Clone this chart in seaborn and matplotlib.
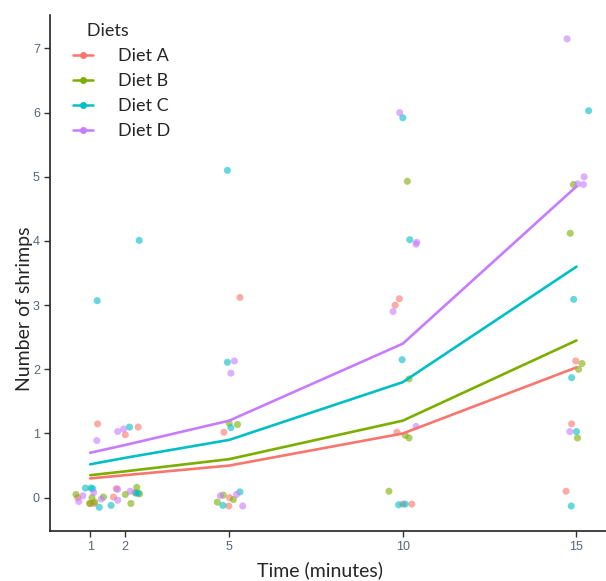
import numpy as np
import pandas as pd
import matplotlib
matplotlib.use('Agg')
import matplotlib.pyplot as plt
from matplotlib.lines import Line2D
import seaborn as sns

# Diet colours (ggplot default hue palette)
diets = ['Diet A', 'Diet B', 'Diet C', 'Diet D']
colors = ['#F8766D', '#7CAE00', '#00BFC4', '#C77CFF']

# Mean number of shrimps per diet over time (lines)
times = [1, 2, 5, 10, 15]
mean_a = [0.30, 0.35, 0.50, 1.00, 2.03]
mean_b = [0.35, 0.41, 0.60, 1.20, 2.45]
mean_c = [0.52, 0.62, 0.90, 1.80, 3.60]
mean_d = [0.70, 0.82, 1.20, 2.40, 4.85]

a_time = [1.21, 2.01, 2.38, 0.64, 1.00, 1.10, 1.67, 1.75, 2.29,
          5.31, 4.85, 4.99, 5.01,
          9.90, 9.78, 9.83, 10.00, 10.26,
          14.98, 14.86, 14.70]
a_count = [1.15, 0.98, 1.10, 0.00, -0.09, -0.09, 0.01, 0.14, 0.08,
           3.12, 1.02, -0.13, 0.00,
           3.10, 3.00, 1.02, -0.10, -0.10,
           2.13, 1.15, 0.10]

b_time = [0.59, 1.05, 0.98, 1.13, 1.38, 2.01, 2.17, 2.34, 2.42,
          5.00, 5.24, 4.83, 4.66, 5.12,
          10.13, 10.18, 10.07, 10.18, 9.60,
          14.82, 15.16, 15.06, 15.03, 14.91]
b_count = [0.05, 0.00, -0.09, -0.07, 0.01, 0.05, -0.09, 0.16, 0.06,
           1.16, 1.14, 0.04, -0.07, -0.03,
           4.93, 1.85, 0.97, 0.93, 0.10,
           4.12, 2.09, 2.00, 0.93, 4.88]

c_time = [1.20, 2.41, 2.13, 0.86, 1.02, 1.07, 1.26, 1.60, 2.32, 2.38,
          4.95, 4.95, 5.05, 4.82, 5.31,
          10.00, 10.20, 9.98, 9.88, 10.07,
          15.35, 14.92, 14.86, 15.00, 14.85]
c_count = [3.07, 4.01, 1.10, 0.15, 0.15, 0.14, -0.15, -0.12, 0.07, 0.07,
           5.10, 2.11, 1.09, -0.12, 0.09,
           5.92, 4.02, 2.15, -0.11, -0.10,
           6.03, 3.09, 1.87, 1.03, -0.13]

d_time = [1.19, 1.79, 1.96, 0.67, 0.79, 1.10, 1.32, 1.79, 1.79, 2.15,
          5.15, 5.05, 4.75, 5.21, 5.39,
          9.91, 10.40, 10.38, 9.72, 10.38,
          14.73, 15.22, 15.03, 15.20, 14.81]
d_count = [0.89, 1.03, 1.07, -0.06, 0.03, 0.08, -0.02, 0.13, -0.04, 0.10,
           2.13, 1.94, 0.03, 0.05, -0.13,
           6.00, 3.98, 3.95, 2.90, 1.11,
           7.15, 5.00, 4.89, 4.88, 1.03]

means = pd.DataFrame({
    'time': times * 4,
    'count': mean_a + mean_b + mean_c + mean_d,
    'diet': np.repeat(diets, len(times)),
})
points = pd.DataFrame({
    'time': a_time + b_time + c_time + d_time,
    'count': a_count + b_count + c_count + d_count,
    'diet': ['Diet A'] * len(a_time) + ['Diet B'] * len(b_time)
            + ['Diet C'] * len(c_time) + ['Diet D'] * len(d_time),
})

sns.set_style('white')
plt.rcParams['font.family'] = ['Lato', 'DejaVu Sans']

fig = plt.figure(figsize=(6.06, 5.81), dpi=100)
ax = fig.add_axes([0.083, 0.086, 0.917, 0.888])

palette = dict(zip(diets, colors))
sns.scatterplot(data=points, x='time', y='count', hue='diet', palette=palette,
                hue_order=diets, s=26, alpha=0.6, linewidth=0, legend=False, ax=ax)
sns.lineplot(data=means, x='time', y='count', hue='diet', palette=palette,
             hue_order=diets, linewidth=1.9, legend=False, ax=ax)

ax.set_xlim(-0.15, 15.85)
ax.set_ylim(-0.52, 7.52)
ax.set_xticks(times)
ax.set_yticks(range(0, 8))
ax.set_xlabel('Time (minutes)', fontsize=14)
ax.set_ylabel('Number of shrimps', fontsize=14)
ax.xaxis.set_label_coords(0.485, -0.058)
ax.yaxis.set_label_coords(-0.032, 0.43)
ax.tick_params(axis='both', length=4, width=1, color='#333333', direction='out',
               labelsize=9, labelcolor='#56657a', bottom=True, left=True)
for lbl in ax.get_xticklabels() + ax.get_yticklabels():
    lbl.set_family(['Liberation Sans', 'DejaVu Sans'])

sns.despine(ax=ax)
for side in ['left', 'bottom']:
    ax.spines[side].set_color('#222222')
    ax.spines[side].set_linewidth(1.2)
ax.grid(False)

handles = [Line2D([0], [0], color=c, lw=1.8, marker='o', markersize=4)
           for c in colors]
leg = ax.legend(handles, diets, title='   Diets', loc='upper left',
                bbox_to_anchor=(0.04, 0.985), frameon=False, fontsize=13,
                title_fontsize=13, handlelength=1.15, handletextpad=1.35,
                labelspacing=0.5, borderpad=0, borderaxespad=0)
leg._legend_box.align = 'left'

fig.savefig('out.png', dpi=100)
